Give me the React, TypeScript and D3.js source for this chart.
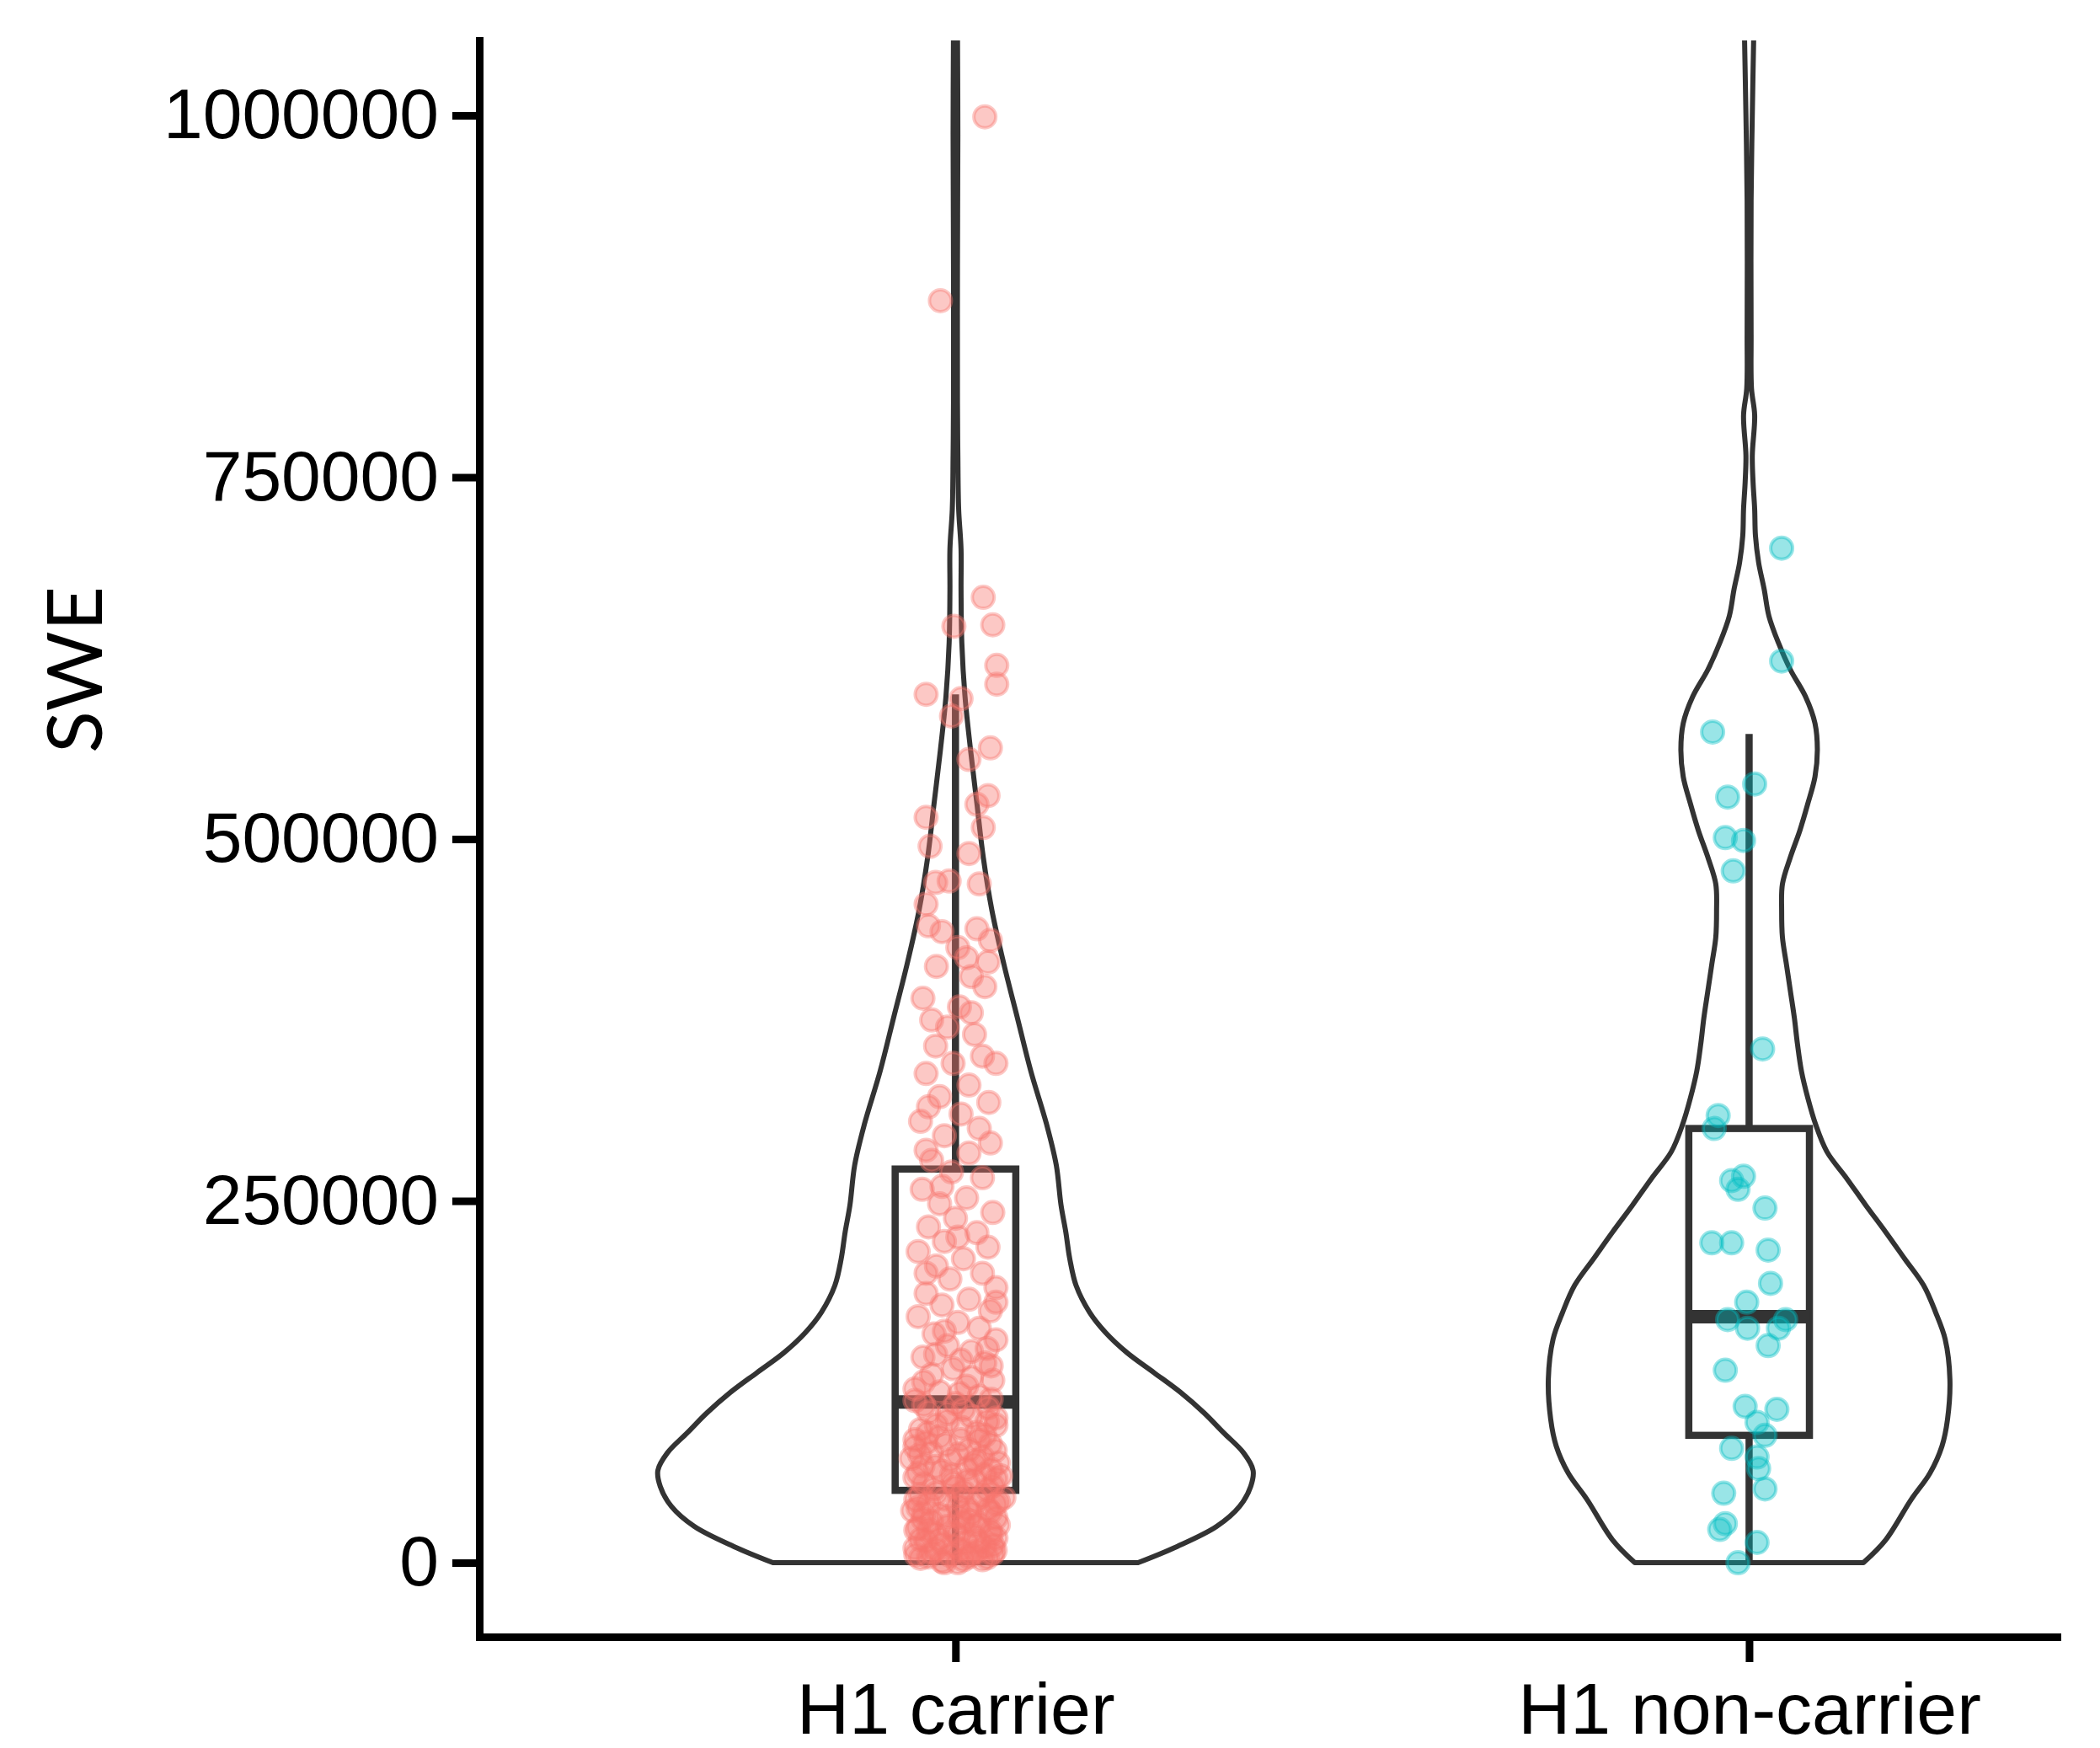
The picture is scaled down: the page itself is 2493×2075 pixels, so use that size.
import React, { useRef, useEffect } from 'react';
import * as d3 from 'd3';

// categories and axis
const categories = ['H1 carrier', 'H1 non-carrier'];
const yTicks = [0, 250000, 500000, 750000, 1000000];
const yLabel = 'SWE';
const pointColors = ['#F8766D', '#00BFC4'];

// violin outlines: SWE value and half width (category units)
const carrierViolinSWE = [0, 11100, 25000, 38900, 52700, 63800, 75900, 89700, 103600, 117500, 131400, 145200, 159100, 173000, 191500, 210000, 228500, 247000, 274700, 302500, 339500, 376500, 413500, 450500, 487500, 524500, 561500, 598500, 635500, 672500, 700300, 728000, 765000, 802000, 894500, 987000, 1060000];
const carrierViolinHalfWidth = [0.230, 0.279, 0.329, 0.358, 0.372, 0.375, 0.363, 0.338, 0.313, 0.284, 0.250, 0.216, 0.189, 0.169, 0.152, 0.144, 0.139, 0.133, 0.127, 0.115, 0.095, 0.078, 0.061, 0.046, 0.035, 0.027, 0.019, 0.012, 0.008, 0.007, 0.007, 0.004, 0.003, 0.0025, 0.0025, 0.003, 0.0025];

const nonCarrierViolinSWE = [0, 15700, 43500, 62000, 80500, 99000, 126700, 154500, 173000, 191500, 210000, 228500, 247000, 265500, 284000, 302500, 321000, 339500, 358000, 376500, 395000, 413500, 432000, 450500, 469000, 487500, 506000, 524500, 543000, 561500, 580000, 598500, 617000, 635500, 654000, 672500, 691000, 709500, 728000, 746500, 765000, 792800, 811300, 848300, 940800, 1000000, 1060000];
const nonCarrierViolinHalfWidth = [0.144, 0.172, 0.204, 0.228, 0.243, 0.250, 0.253, 0.247, 0.235, 0.220, 0.196, 0.172, 0.147, 0.123, 0.098, 0.084, 0.074, 0.066, 0.061, 0.057, 0.052, 0.047, 0.042, 0.041, 0.042, 0.052, 0.064, 0.074, 0.083, 0.086, 0.083, 0.071, 0.052, 0.037, 0.025, 0.019, 0.012, 0.008, 0.007, 0.005, 0.004, 0.007, 0.003, 0.0025, 0.0025, 0.004, 0.006];

// boxplot stats per category
const boxQ1 = [50000, 88000];
const boxMedian = [111000, 170000];
const boxQ3 = [272000, 300000];
const whiskerLow = [0, 0];
const whiskerHigh = [600000, 572600];

// jittered points: [SWE, horizontal jitter in category units]
const carrierPoints = [
  [999000, 0.037], [872000, -0.019], [667000, 0.035], [648000, 0.047], [647000, -0.002], [620000, 0.052], [607000, 0.052],
  [600000, -0.037], [597000, 0.007], [585000, -0.005], [563000, 0.044], [555000, 0.017], [530000, 0.041], [524000, 0.027],
  [515000, -0.037], [508000, 0.035], [495000, -0.032], [490000, 0.017], [471000, -0.008], [470000, -0.025], [469000, 0.030],
  [455000, -0.037], [440000, -0.034], [438000, 0.027], [436000, -0.017], [430000, 0.044], [425000, 0.003], [418000, 0.014],
  [415000, 0.041], [412000, -0.024], [405000, 0.020], [398000, 0.037], [390000, -0.041], [384000, 0.005], [380000, 0.020],
  [375000, -0.030], [370000, -0.010], [365000, 0.024], [357000, -0.025], [350000, 0.034], [345000, -0.003], [345000, 0.051],
  [338000, -0.037], [330000, 0.017], [322000, -0.020], [318000, 0.042], [315000, -0.034], [310000, 0.007], [305000, -0.044],
  [300000, 0.030], [295000, -0.014], [290000, 0.044], [285000, -0.037], [283000, 0.017], [278000, -0.030], [270000, -0.005],
  [266000, 0.034], [260000, -0.017], [258000, -0.042], [252000, 0.014], [248000, -0.020], [242000, 0.047], [238000, 0],
  [232000, -0.034], [228000, 0.027], [225000, 0.003], [222000, -0.014], [218000, 0.041], [215000, -0.047], [210000, 0.010],
  [205000, -0.024], [200000, 0.034], [200000, -0.037], [196000, -0.007], [190000, 0.051], [186000, -0.037], [182000, 0.017],
  [180000, 0.051], [178000, -0.017], [174000, 0.044], [170000, -0.047], [166000, 0.003], [162000, 0.030], [160000, -0.014],
  [158000, -0.027], [154000, 0.051], [150000, -0.010], [146000, 0.020], [142000, -0.041], [140000, 0.007], [138000, 0.037],
  [134000, -0.003], [130000, -0.030], [126000, 0.047], [122000, 0.014], [120000, -0.051], [118000, -0.020], [115000, 0.030],
  [112000, -0.051], [110000, 0], [107000, 0.041], [104000, -0.034], [101000, 0.020], [100000, 0.051], [98000, -0.010],
  [95000, 0.051], [95000, -0.024], [92000, -0.044], [90000, 0.027], [88000, 0.037], [87000, -0.020], [85000, 0.007],
  [85000, -0.051], [83000, -0.037], [82000, 0.044], [80000, -0.051], [78000, 0.017], [76000, -0.030], [75000, 0.003],
  [73000, 0.034], [72000, -0.056], [71000, -0.007], [69000, 0.054], [68000, 0.024], [67000, -0.041], [65000, 0.014],
  [63000, -0.017], [62000, -0.047], [61000, 0.037], [60000, 0.057], [59000, -0.051], [58000, 0.051], [57000, 0.024],
  [55000, -0.003], [53000, 0.047], [52000, 0], [51000, -0.027], [49000, 0.010], [48000, -0.024], [47000, -0.044],
  [46000, 0.034], [45000, 0.061], [44000, -0.014], [43000, 0.027], [42000, 0.054], [41000, -0.034], [39000, 0.003],
  [38000, -0.047], [37000, 0.041], [36000, -0.054], [35000, 0.044], [34000, 0.020], [33000, -0.020], [32000, -0.010],
  [31000, 0.051], [30000, -0.041], [29000, 0.017], [28000, 0.010], [27000, 0.030], [26000, 0.054], [25000, -0.010],
  [24000, -0.047], [23000, -0.034], [22000, 0.044], [21000, 0], [20000, -0.027], [19000, 0.003], [18000, 0.024],
  [17000, 0.051], [16000, -0.044], [15000, -0.037], [14000, 0.014], [13000, -0.017], [12000, 0.047], [11000, 0.037],
  [10000, -0.051], [9000, 0.007], [9000, -0.024], [8000, 0.027], [7000, -0.030], [6000, 0.047], [6000, 0.020],
  [5000, -0.007], [4000, 0.017], [4000, -0.034], [3000, -0.044], [2000, 0.034], [2000, 0.010], [1000, -0.017],
  [0, 0.003], [0, -0.014],
  [3500, 0.040], [5500, -0.050], [8500, 0.050], [11500, -0.002], [14500, 0.030], [16500, -0.020], [19500, 0.045],
  [22500, -0.050], [25500, 0.025], [28500, -0.030], [31500, 0.005], [34500, -0.040], [37500, 0.015], [40500, 0.050],
  [43500, -0.050], [46500, 0.005], [50500, 0.040], [54500, -0.040], [56500, 0.015], [60500, -0.005], [64500, 0.045],
  [66500, -0.025], [70500, 0.025], [74500, -0.045], [77500, 0.050], [81500, -0.012], [84500, 0.030], [89500, -0.035],
  [93500, 0.008], [97500, 0.040], [103000, -0.010], [106000, 0.010], [109000, -0.040], [113000, 0.045], [117000, 0.005],
  [125000, -0.040], [128000, 0.020], [136000, 0.045], [144000, -0.025], [148000, 0.040],
];

const nonCarrierPoints = [
  [701000, 0.041], [623000, 0.041], [574000, -0.046], [538000, 0.007], [529000, -0.027], [501000, -0.030], [499000, -0.007],
  [478000, -0.020], [355000, 0.017], [309000, -0.039], [300000, -0.044], [267000, -0.007], [264000, -0.022], [258000, -0.014],
  [245000, 0.020], [221000, -0.047], [221000, -0.022], [216000, 0.024], [193000, 0.027], [180000, -0.003], [168000, -0.027],
  [168000, 0.046], [162000, -0.002], [162000, 0.037], [150000, 0.024], [133000, -0.030], [108000, -0.005], [106000, 0.035],
  [97000, 0.010], [88000, 0.020], [79000, -0.022], [73000, 0.010], [65000, 0.012], [51000, 0.020], [48000, -0.032],
  [27000, -0.030], [23000, -0.037], [14000, 0.010], [0, -0.014],
];

const App = () => {
  const svgRef = useRef(null);
  const width = 2493;
  const height = 2075;

  useEffect(() => {
    const svg = d3.select(svgRef.current);
    svg.selectAll('*').remove();

    const panel = { left: 569, right: 2442, top: 48, bottom: 1943 };

    const y = d3.scaleLinear().domain([-51200, 1051800]).range([panel.bottom, panel.top]);
    const x = d3.scaleLinear().domain([-0.6, 1.388]).range([panel.left, panel.right]);

    svg.append('defs')
      .append('clipPath')
      .attr('id', 'panel-clip')
      .append('rect')
      .attr('x', panel.left)
      .attr('y', panel.top)
      .attr('width', panel.right - panel.left)
      .attr('height', panel.bottom - panel.top);

    const chart = svg.append('g').attr('clip-path', 'url(#panel-clip)');

    // violins
    const violins = [
      { swe: carrierViolinSWE, hw: carrierViolinHalfWidth },
      { swe: nonCarrierViolinSWE, hw: nonCarrierViolinHalfWidth },
    ];
    const line = d3.line().curve(d3.curveCatmullRom.alpha(0.5));
    violins.forEach((v, i) => {
      const right = v.swe.map((s, k) => [x(i + v.hw[k]), y(s)]);
      const left = v.swe.map((s, k) => [x(i - v.hw[k]), y(s)]).reverse();
      chart
        .append('path')
        .attr('d', line(right) + 'L' + line(left).slice(1) + 'Z')
        .attr('fill', 'none')
        .attr('stroke', '#333333')
        .attr('stroke-width', 6)
        .attr('stroke-linejoin', 'round');
    });

    // boxplots
    const boxHalf = 0.076;
    categories.forEach((c, i) => {
      chart.append('line')
        .attr('x1', x(i)).attr('x2', x(i))
        .attr('y1', y(boxQ3[i])).attr('y2', y(whiskerHigh[i]))
        .attr('stroke', '#333333').attr('stroke-width', 8.5);
      chart.append('line')
        .attr('x1', x(i)).attr('x2', x(i))
        .attr('y1', y(boxQ1[i])).attr('y2', y(whiskerLow[i]))
        .attr('stroke', '#333333').attr('stroke-width', 8.5);
      chart.append('rect')
        .attr('x', x(i - boxHalf))
        .attr('y', y(boxQ3[i]))
        .attr('width', x(i + boxHalf) - x(i - boxHalf))
        .attr('height', y(boxQ1[i]) - y(boxQ3[i]))
        .attr('fill', 'none')
        .attr('stroke', '#333333')
        .attr('stroke-width', 8.5);
      chart.append('line')
        .attr('x1', x(i - boxHalf)).attr('x2', x(i + boxHalf))
        .attr('y1', y(boxMedian[i])).attr('y2', y(boxMedian[i]))
        .attr('stroke', '#333333').attr('stroke-width', 16);
    });

    // jittered points
    [carrierPoints, nonCarrierPoints].forEach((pts, i) => {
      chart.append('g')
        .selectAll('circle')
        .data(pts)
        .enter()
        .append('circle')
        .attr('cx', d => x(i + d[1]))
        .attr('cy', d => y(d[0]))
        .attr('r', 13)
        .attr('fill', pointColors[i])
        .attr('fill-opacity', 0.4)
        .attr('stroke', pointColors[i])
        .attr('stroke-opacity', 0.4)
        .attr('stroke-width', 4);
    });

    // y axis
    const yAxis = svg.append('g')
      .attr('transform', `translate(${panel.left},0)`)
      .call(d3.axisLeft(y).tickValues(yTicks).tickFormat(d3.format('d')).tickSize(32).tickSizeOuter(0).tickPadding(16));
    yAxis.select('.domain').attr('stroke', '#000').attr('stroke-width', 9).attr('stroke-linecap', 'square');
    yAxis.selectAll('.tick line').attr('stroke', '#000').attr('stroke-width', 9);
    yAxis.selectAll('.tick text')
      .attr('font-family', '"Liberation Sans", Arial, sans-serif')
      .attr('font-size', 84)
      .attr('fill', '#000');

    // x axis
    const xAxis = svg.append('g')
      .attr('transform', `translate(0,${panel.bottom})`)
      .call(d3.axisBottom(x).tickValues([0, 1]).tickFormat(d => categories[d]).tickSize(30).tickSizeOuter(0).tickPadding(24));
    xAxis.select('.domain').attr('stroke', '#000').attr('stroke-width', 9).attr('stroke-linecap', 'square');
    xAxis.selectAll('.tick line').attr('stroke', '#000').attr('stroke-width', 9);
    xAxis.selectAll('.tick text')
      .attr('font-family', '"Liberation Sans", Arial, sans-serif')
      .attr('font-size', 86)
      .attr('fill', '#000');

    // y axis title
    svg.append('text')
      .attr('transform', 'translate(85,795) rotate(-90)')
      .attr('text-anchor', 'middle')
      .attr('dominant-baseline', 'central')
      .attr('font-family', 'Lato, "Open Sans", sans-serif')
      .attr('font-size', 92)
      .attr('fill', '#000')
      .text(yLabel);
  }, []);

  return (
    <>
      <style>{'body{margin:0;}'}</style>
      <svg ref={svgRef} width={width} height={height} style={{ display: 'block', background: '#fff' }}></svg>
    </>
  );
};

export default App;
